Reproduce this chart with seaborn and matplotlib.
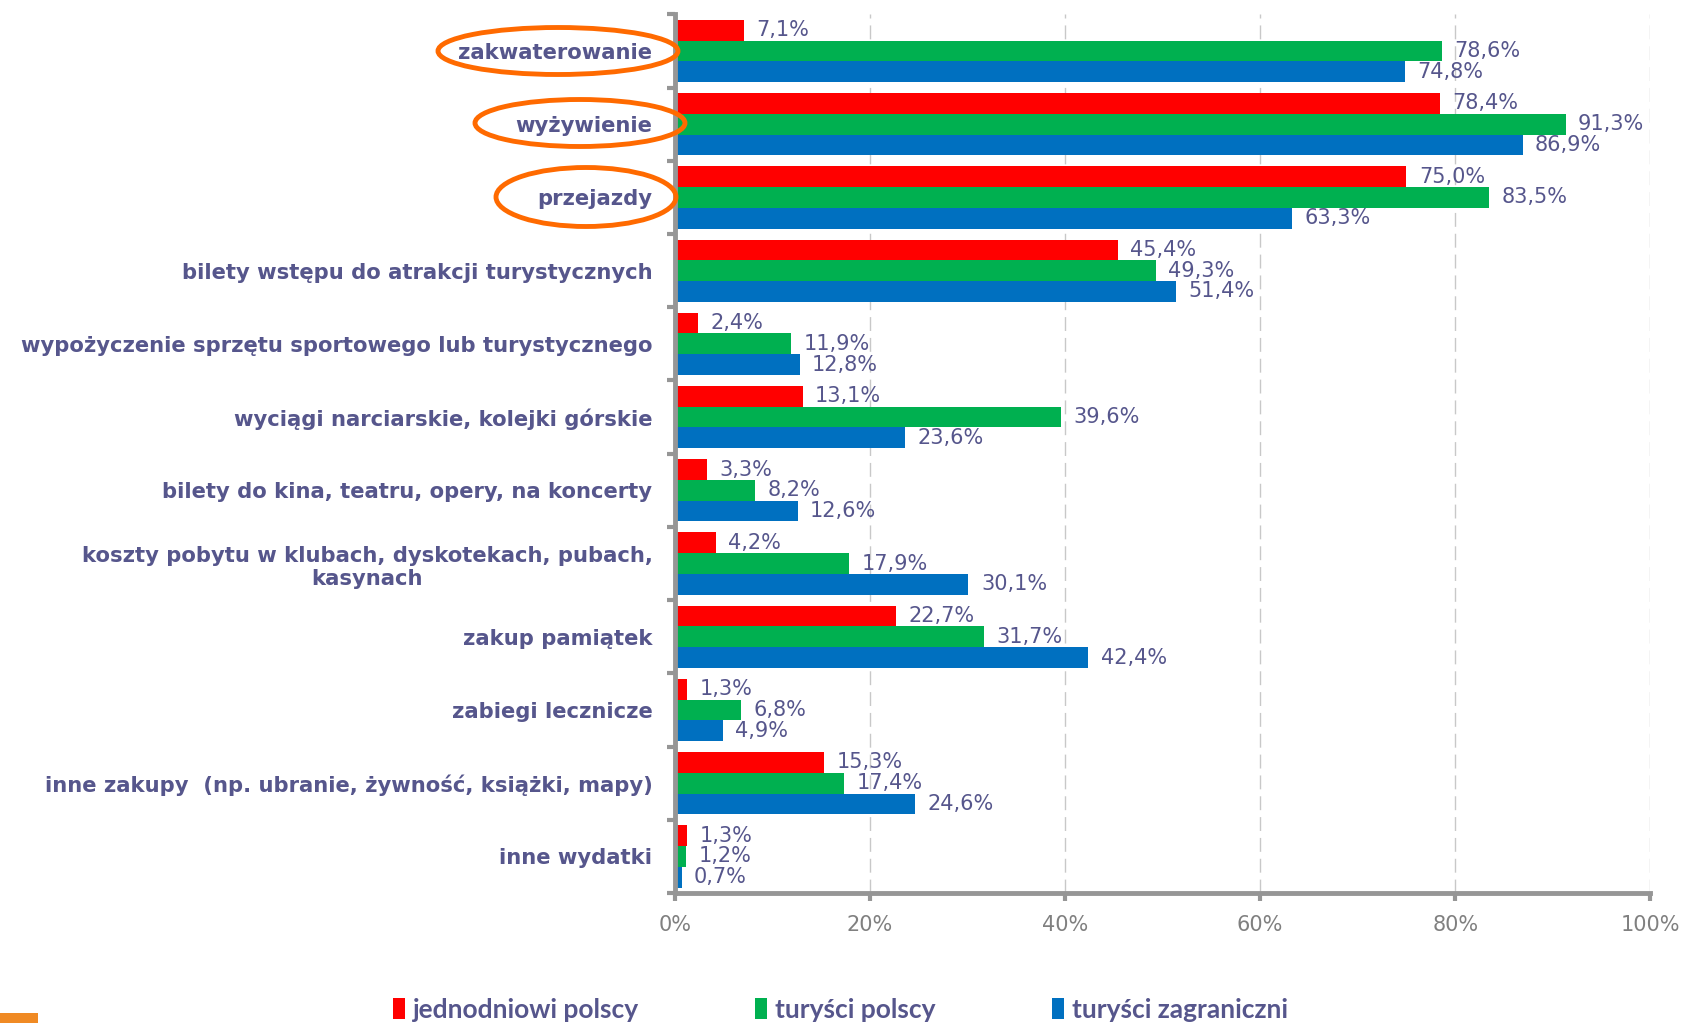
import pandas as pd
import numpy as np
import matplotlib.pyplot as plt
import seaborn as sns
from matplotlib.patches import Ellipse, Patch, Rectangle

# categories and series (percent)
categories = ['zakwaterowanie', 'wyżywienie', 'przejazdy',
              'bilety wstępu do atrakcji turystycznych',
              'wypożyczenie sprzętu sportowego lub turystycznego',
              'wyciągi narciarskie, kolejki górskie',
              'bilety do kina, teatru, opery, na koncerty',
              'koszty pobytu w klubach, dyskotekach, pubach,\nkasynach',
              'zakup pamiątek', 'zabiegi lecznicze',
              'inne zakupy  (np. ubranie, żywność, książki, mapy)',
              'inne wydatki']
series = ['jednodniowi polscy', 'turyści polscy', 'turyści zagraniczni']
jednodniowi = [7.1, 78.4, 75.0, 45.4, 2.4, 13.1, 3.3, 4.2, 22.7, 1.3, 15.3, 1.3]
turysci_pl = [78.6, 91.3, 83.5, 49.3, 11.9, 39.6, 8.2, 17.9, 31.7, 6.8, 17.4, 1.2]
turysci_zag = [74.8, 86.9, 63.3, 51.4, 12.8, 23.6, 12.6, 30.1, 42.4, 4.9, 24.6, 0.7]
x_ticks = [0, 20, 40, 60, 80, 100]
colors = ['#FF0000', '#00B050', '#0070C0']

df = pd.DataFrame({
    'kategoria': categories * 3,
    'seria': [s for s in series for _ in categories],
    'wartosc': jednodniowi + turysci_pl + turysci_zag,
})

sns.set_style('white')
plt.rcParams['font.family'] = ['DejaVu Sans']

text_col = '#56568C'
axis_col = '#969696'

fig = plt.figure(figsize=(16.91, 10.23), dpi=100)
ax = fig.add_axes([0.399, 0.127, 0.577, 0.859])

sns.barplot(data=df, y='kategoria', x='wartosc', hue='seria', orient='h',
            palette=colors, width=0.85, saturation=1, linewidth=0, ax=ax, legend=False)

for cont in ax.containers:
    labels = [f'{b.get_width():.1f}%'.replace('.', ',') for b in cont]
    ax.bar_label(cont, labels=labels, padding=9, fontsize=15, color=text_col)

ax.set_xlim(0, 100)
ax.set_ylim(len(categories) - 0.5, -0.5)
ax.set_xticks(x_ticks)
ax.set_xticklabels([f'{t}%' for t in x_ticks], fontsize=15, color='#808080')
ax.set_yticks(range(len(categories)))
ax.set_yticklabels(categories, fontsize=15.2, fontweight='bold', color=text_col,
                   multialignment='center')
ax.set_yticks(np.arange(-0.5, len(categories) + 0.5, 1), minor=True)
ax.tick_params(axis='y', which='major', length=0, pad=16)
ax.tick_params(axis='y', which='minor', length=6, width=3, color=axis_col, direction='out', left=True)
ax.tick_params(axis='x', which='major', length=6, width=3, color=axis_col, direction='out',
               bottom=True, pad=10)
ax.set_xlabel('')
ax.set_ylabel('')

ax.grid(axis='x', color='#C8C8C8', linestyle=(0, (10, 5)), linewidth=1)
ax.set_axisbelow(True)
for s in ['top', 'right']:
    ax.spines[s].set_visible(False)
for s in ['left', 'bottom']:
    ax.spines[s].set_color(axis_col)
    ax.spines[s].set_linewidth(3.5)

# orange ellipses around the first three labels
W, H = 1691, 1023
for cx, cy, w, h in [(558, 51, 240, 47), (580, 123, 210, 47), (586, 197, 180, 59)]:
    fig.patches.append(Ellipse((cx / W, 1 - cy / H), w / W, h / H, transform=fig.transFigure,
                               fill=False, edgecolor='#FF6A00', linewidth=3.5))

# small orange block bottom-left
fig.patches.append(Rectangle((0, 0), 38 / W, 10 / H, transform=fig.transFigure,
                             facecolor='#F08A24', edgecolor='none'))

handles = [Patch(facecolor=c, edgecolor='none') for c in colors]
fig.legend(handles, series, loc='center', bbox_to_anchor=(0.497, 1 - 1010 / H), ncol=3,
           frameon=False, handlelength=0.45, handleheight=0.85, handletextpad=0.3,
           columnspacing=4.4, prop={'family': ['Lato', 'DejaVu Sans'], 'size': 19,
                                    'weight': 'bold'},
           labelcolor=text_col)

fig.savefig('out.png', dpi=100)
